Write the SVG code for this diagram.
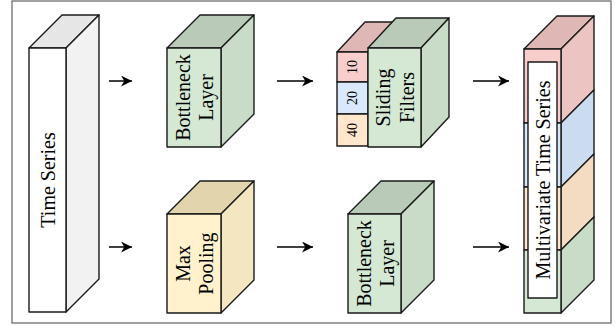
<svg xmlns="http://www.w3.org/2000/svg" width="616" height="326" viewBox="0 0 616 326">
<defs>
<style>
.e{stroke:#1a1a1a;stroke-width:1.4;stroke-linejoin:round}
.t{font-family:"Liberation Serif","Times New Roman",serif;font-size:20px;fill:#000;text-anchor:middle}
.n{font-family:"Liberation Serif","Times New Roman",serif;font-size:14px;fill:#000;text-anchor:middle}
.c{stroke:#000;stroke-width:1.5;fill:none}
</style>
<marker id="ah" viewBox="0 0 10 10" refX="10" refY="5" markerWidth="11" markerHeight="11" orient="auto" markerUnits="userSpaceOnUse">
<path d="M0,0 L10,5 L0,10 L3,5 Z" fill="#000"/>
</marker>
</defs>
<rect x="12" y="1" width="599" height="322" fill="#fff" stroke="#6e6e6e" stroke-width="1.3"/>

<g id="time-series">
<polygon class="e" points="29,48 62,15 99,15 66,48" fill="#e6e6e6"/>
<polygon class="e" points="66,48 99,15 99,279 66,312" fill="#f2f2f2"/>
<rect class="e" x="29" y="48" width="37" height="264" fill="#fff"/>
<text class="t" transform="translate(47.5,180) rotate(-90)" y="7">Time Series</text>
</g>

<g id="bottleneck-top">
<polygon class="e" points="167,48 200,15 254,15 221,48" fill="#b9cbb8"/>
<polygon class="e" points="221,48 254,15 254,114 221,147" fill="#c9dcc8"/>
<rect class="e" x="167" y="48" width="54" height="99" fill="#d5e8d4"/>
<text class="t" transform="translate(194,97.5) rotate(-90)"><tspan x="0" y="-4">Bottleneck</tspan><tspan x="0" y="19">Layer</tspan></text>
</g>

<g id="sliding-filters">
<polygon class="e" points="337,52 365,22 396,22 368,52" fill="#dfb7b5"/>
<rect class="e" x="337" y="52" width="31" height="30" fill="#f8cecc"/>
<rect class="e" x="337" y="82" width="31" height="32" fill="#dae8fc"/>
<rect class="e" x="337" y="114" width="31" height="32" fill="#ffe6cc"/>
<text class="n" transform="translate(352,67) rotate(-90)" y="5">10</text>
<text class="n" transform="translate(352,98) rotate(-90)" y="5">20</text>
<text class="n" transform="translate(352,130) rotate(-90)" y="5">40</text>
<polygon class="e" points="368,48 396,18 449,18 421,48" fill="#b9cbb8"/>
<polygon class="e" points="421,48 449,18 449,117 421,147" fill="#c9dcc8"/>
<rect class="e" x="368" y="48" width="53" height="99" fill="#d5e8d4"/>
<text class="t" transform="translate(394.5,97.5) rotate(-90)"><tspan x="0" y="-5">Sliding</tspan><tspan x="0" y="19">Filters</tspan></text>
</g>

<g id="multivariate-time-series">
<polygon class="e" points="524,49 557,16 594,16 561,49" fill="#dfb7b5"/>
<polygon class="e" points="561,49 594,16 594,90 561,123" fill="#ecc4c2"/>
<polygon class="e" points="561,123 594,90 594,154 561,187" fill="#ccdcf0"/>
<polygon class="e" points="561,187 594,154 594,217 561,250" fill="#f4dcc2"/>
<polygon class="e" points="561,250 594,217 594,280 561,313" fill="#c9dcc8"/>
<rect class="e" x="524" y="49" width="37" height="74" fill="#f8cecc"/>
<rect class="e" x="524" y="123" width="37" height="64" fill="#dae8fc"/>
<rect class="e" x="524" y="187" width="37" height="63" fill="#ffe6cc"/>
<rect class="e" x="524" y="250" width="37" height="63" fill="#d5e8d4"/>
<rect class="e" x="528" y="62" width="29" height="236" fill="#fff"/>
<text class="t" transform="translate(542.5,180) rotate(-90)" y="7">Multivariate Time Series</text>
</g>

<g id="max-pooling">
<polygon class="e" points="167,214 200,181 254,181 221,214" fill="#e2d5ae"/>
<polygon class="e" points="221,214 254,181 254,280 221,313" fill="#f3e6c0"/>
<rect class="e" x="167" y="214" width="54" height="99" fill="#fff2cc"/>
<text class="t" transform="translate(194,263.5) rotate(-90)"><tspan x="0" y="-4">Max</tspan><tspan x="0" y="19">Pooling</tspan></text>
</g>

<g id="bottleneck-bottom">
<polygon class="e" points="348,214 381,181 434,181 401,214" fill="#b9cbb8"/>
<polygon class="e" points="401,214 434,181 434,280 401,313" fill="#c9dcc8"/>
<rect class="e" x="348" y="214" width="53" height="99" fill="#d5e8d4"/>
<text class="t" transform="translate(374.5,263.5) rotate(-90)"><tspan x="0" y="-4">Bottleneck</tspan><tspan x="0" y="19">Layer</tspan></text>
</g>

<g id="connectors">
<line class="c" x1="109" y1="81" x2="132" y2="81" marker-end="url(#ah)"/>
<line class="c" x1="277" y1="81" x2="313" y2="81" marker-end="url(#ah)"/>
<line class="c" x1="473" y1="81" x2="509" y2="81" marker-end="url(#ah)"/>
<line class="c" x1="109" y1="247" x2="132" y2="247" marker-end="url(#ah)"/>
<line class="c" x1="277" y1="247" x2="313" y2="247" marker-end="url(#ah)"/>
<line class="c" x1="473" y1="247" x2="509" y2="247" marker-end="url(#ah)"/>
</g>
</svg>
